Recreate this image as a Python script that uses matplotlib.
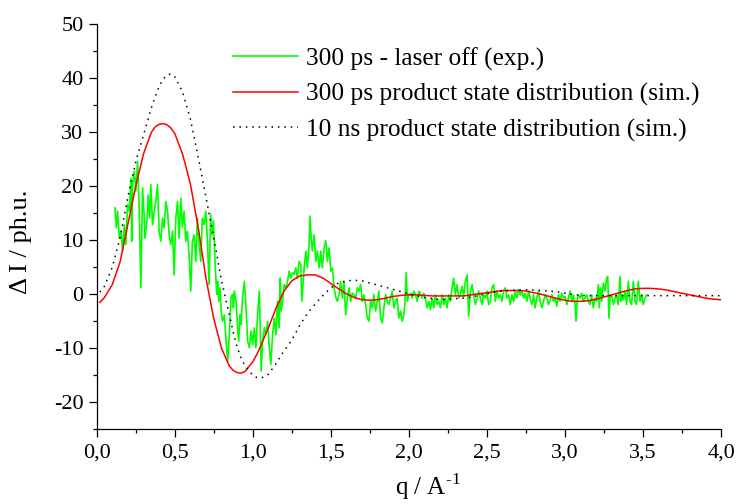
import numpy as np
import matplotlib
matplotlib.use("Agg")
import matplotlib.pyplot as plt
from matplotlib.ticker import MultipleLocator, FuncFormatter

# simulated curves
sim_q = [0.02, 0.05, 0.10, 0.15, 0.20, 0.25, 0.30, 0.35, 0.375, 0.40, 0.425, 0.45, 0.475, 0.50, 0.55,
         0.60, 0.65, 0.70, 0.75, 0.80, 0.85, 0.875, 0.90, 0.925, 0.95, 1.00, 1.025, 1.05, 1.075, 1.10, 1.15,
         1.20, 1.25, 1.30, 1.35, 1.40, 1.45, 1.50, 1.55, 1.60, 1.65, 1.70, 1.75,
         1.80, 1.85, 1.90, 1.95, 2.00, 2.05, 2.10, 2.15, 2.20, 2.25, 2.30, 2.35,
         2.40, 2.45, 2.50, 2.55, 2.60, 2.65, 2.70, 2.75, 2.80, 2.85, 2.90, 2.95,
         3.00, 3.05, 3.10, 3.15, 3.20, 3.25, 3.30, 3.35, 3.40, 3.45, 3.50, 3.55,
         3.60, 3.65, 3.70, 3.75, 3.80, 3.85, 3.90, 3.95, 4.00]

sim_300ps = [-1.5, -0.6, 1.8, 6.0, 13.0, 20.0, 26.0, 30.0, 31.0, 31.5, 31.6, 31.4, 30.8, 29.8, 26.0,
             20.5, 12.5, 3.0, -4.5, -10.0, -13.3, -14.1, -14.5, -14.6, -14.3, -12.5, -11.2, -9.6, -7.9, -6.2, -2.5,
             0.6, 2.5, 3.4, 3.6, 3.6, 3.0, 2.0, 1.0, 0.1, -0.6, -1.0, -1.1,
             -1.0, -0.7, -0.4, -0.2, -0.1, -0.1, -0.2, -0.3, -0.3, -0.3, -0.3, -0.3,
             -0.1, 0.1, 0.3, 0.5, 0.7, 0.7, 0.7, 0.6, 0.3, 0.0, -0.4, -0.8,
             -1.1, -1.3, -1.3, -1.2, -0.9, -0.5, -0.1, 0.3, 0.7, 1.0, 1.1, 1.1,
             1.0, 0.8, 0.5, 0.2, -0.1, -0.4, -0.7, -0.9, -1.0]

sim_10ns = [0.4, 1.5, 5.0, 10.5, 18.0, 24.5, 29.5, 34.5, 36.6, 38.5, 39.8, 40.6, 40.8, 40.3, 37.5,
            32.5, 25.5, 18.0, 10.5, 2.5, -3.8, -7.0, -9.8, -11.8, -13.2, -15.0, -15.4, -15.5, -15.3, -14.8, -12.8,
            -10.5, -8.5, -5.8, -3.5, -1.8, -0.2, 1.2, 2.1, 2.5, 2.6, 2.5, 2.1,
            1.7, 1.3, 0.9, 0.5, 0.1, -0.3, -0.6, -0.8, -1.0, -0.9, -0.8, -0.7,
            -0.5, -0.2, 0.1, 0.4, 0.6, 0.7, 0.8, 0.85, 0.8, 0.7, 0.6, 0.45,
            0.2, -0.05, -0.2, -0.25, -0.25, -0.25, -0.25, -0.25, -0.25, -0.25, -0.25, -0.25,
            -0.25, -0.25, -0.25, -0.25, -0.25, -0.25, -0.25, -0.25, -0.25]

# experimental trace (300 ps - laser off)
exp_q = [0.117, 0.126, 0.134, 0.145, 0.155, 0.166, 0.177, 0.187, 0.198, 0.209,
         0.219, 0.224, 0.230, 0.241, 0.251, 0.262, 0.273, 0.283, 0.294, 0.305,
         0.309, 0.322, 0.330, 0.339, 0.347, 0.358, 0.369, 0.379, 0.390, 0.400,
         0.411, 0.422, 0.432, 0.443, 0.454, 0.464, 0.475, 0.486, 0.496, 0.507,
         0.518, 0.528, 0.539, 0.549, 0.560, 0.571, 0.581, 0.592, 0.603, 0.613,
         0.624, 0.635, 0.645, 0.656, 0.667, 0.677, 0.688, 0.699, 0.709, 0.720,
         0.730, 0.739, 0.748, 0.754, 0.760, 0.769, 0.775, 0.782, 0.790, 0.797,
         0.807, 0.818, 0.829, 0.839, 0.850, 0.861, 0.871, 0.876, 0.882, 0.893,
         0.903, 0.910, 0.918, 0.925, 0.935, 0.946, 0.957, 0.967, 0.978, 0.989,
         0.999, 1.010, 1.020, 1.031, 1.042, 1.048, 1.054, 1.063, 1.074, 1.084,
         1.095, 1.106, 1.116, 1.127, 1.138, 1.148, 1.159, 1.169, 1.176, 1.182,
         1.191, 1.201, 1.212, 1.223, 1.233, 1.244, 1.254, 1.265, 1.276, 1.286,
         1.297, 1.308, 1.314, 1.322, 1.329, 1.340, 1.350, 1.361, 1.367, 1.374,
         1.382, 1.393, 1.404, 1.414, 1.425, 1.436, 1.446, 1.457, 1.468, 1.478,
         1.489, 1.500, 1.510, 1.521, 1.532, 1.542, 1.553, 1.563, 1.574, 1.585,
         1.595, 1.606, 1.617, 1.627, 1.638, 1.649, 1.659, 1.670, 1.681, 1.691,
         1.702, 1.712, 1.723, 1.734, 1.744, 1.755, 1.766, 1.776, 1.787, 1.798,
         1.808, 1.819, 1.830, 1.840, 1.851, 1.862, 1.872, 1.883, 1.893, 1.904,
         1.915, 1.925, 1.936, 1.947, 1.957, 1.968, 1.974, 1.983, 1.991, 2.000,
         2.011, 2.021, 2.032, 2.043, 2.053, 2.064, 2.075, 2.085, 2.096, 2.106,
         2.117, 2.128, 2.138, 2.149, 2.160, 2.170, 2.181, 2.192, 2.202, 2.213,
         2.224, 2.234, 2.245, 2.256, 2.266, 2.277, 2.287, 2.298, 2.309, 2.320,
         2.330, 2.341, 2.351, 2.362, 2.373, 2.379, 2.383, 2.394, 2.405, 2.415,
         2.426, 2.437, 2.447, 2.458, 2.469, 2.479, 2.490, 2.500, 2.511, 2.522,
         2.532, 2.543, 2.554, 2.564, 2.575, 2.586, 2.596, 2.607, 2.618, 2.628,
         2.639, 2.650, 2.660, 2.671, 2.682, 2.692, 2.703, 2.714, 2.724, 2.735,
         2.746, 2.756, 2.767, 2.777, 2.788, 2.799, 2.809, 2.820, 2.831, 2.841,
         2.852, 2.863, 2.873, 2.884, 2.895, 2.905, 2.916, 2.926, 2.937, 2.948,
         2.958, 2.969, 2.980, 2.990, 3.001, 3.012, 3.022, 3.033, 3.044, 3.054,
         3.065, 3.071, 3.080, 3.086, 3.097, 3.107, 3.118, 3.129, 3.139, 3.150,
         3.161, 3.171, 3.182, 3.193, 3.203, 3.214, 3.220, 3.227, 3.235, 3.246,
         3.257, 3.267, 3.274, 3.282, 3.289, 3.299, 3.310, 3.321, 3.331, 3.342,
         3.353, 3.359, 3.368, 3.374, 3.385, 3.395, 3.406, 3.417, 3.427, 3.438,
         3.449, 3.459, 3.470, 3.481, 3.491, 3.502, 3.513, 3.523]

exp_dI = [16.0, 12.3, 15.4, 10.4, 11.7, 8.0, 12.9, 9.2, 16.6, 15.4,
          21.5, 9.8, 20.3, 22.8, 19.1, 24.6, 15.4, 1.2, 19.7, 14.1,
          10.4, 13.5, 18.4, 14.1, 20.3, 12.9, 15.4, 17.2, 20.3, 11.7,
          9.8, 14.1, 12.3, 17.2, 15.4, 11.0, 9.2, 11.7, 3.6, 14.1,
          17.2, 10.4, 17.8, 12.3, 15.4, 9.8, 11.7, 7.3, 0.6, 9.8,
          11.0, 6.1, 14.1, 9.2, 6.1, 14.1, 12.9, 15.4, 10.4, 1.8,
          14.8, 11.0, 13.6, 9.3, 4.9, 0.0, 2.4, -1.3, 1.2, -3.1,
          -5.0, -3.8, -8.7, -12.4, -7.5, -0.6, 0.0, -2.5, 0.6, -1.3,
          -6.2, -8.7, -3.8, -5.6, -0.6, 2.4, -2.5, -8.7, -9.9, -6.8,
          -9.3, -6.2, -9.9, -3.8, 0.6, -6.2, -14.2, -8.7, -6.2, -7.5,
          -5.0, -9.9, -13.0, -7.5, -4.4, -7.5, -1.3, -6.2, 3.0, -3.1,
          -1.3, 1.8, 1.2, 2.4, 4.3, 3.0, 4.0, 3.7, 4.9, 3.0,
          6.1, 5.5, -1.3, 1.8, 4.9, 8.0, 4.9, 9.3, 14.5, 10.5,
          8.0, 11.0, 6.1, 8.0, 4.9, 8.0, 4.9, 8.6, 9.9, 6.1,
          8.6, 4.3, 4.9, 1.2, -0.6, -1.3, 0.0, 2.4, -0.7, 2.4,
          -3.8, -0.7, 1.2, -1.3, 0.2, -0.1, -0.7, 1.2, 0.6, 1.8,
          -1.3, -0.1, -1.9, -4.4, -5.0, -1.3, -2.5, -0.1, -3.1, -1.3,
          0.6, -4.4, -5.3, -2.5, -0.1, -1.3, -1.9, -0.7, 0.6, -2.5,
          -1.3, -0.7, -4.4, -3.1, -5.0, -3.8, -1.9, 4.0, -1.3, -0.1,
          0.2, -0.7, 0.6, -0.1, -1.3, 0.6, -0.1, -0.7, 0.2, -0.7,
          -2.5, -1.3, -2.8, -0.7, -2.5, -0.1, -1.9, -1.3, -2.5, -0.1,
          -1.9, -0.7, -2.5, -0.1, -1.3, 1.2, 3.0, -0.1, 1.8, -0.7,
          -0.1, 1.5, -0.4, 2.4, 3.6, -1.3, -4.1, 0.6, 1.8, -0.1,
          -1.9, -0.7, 0.6, -0.7, -1.9, -0.1, -0.7, 0.6, -1.9, -1.3,
          1.2, 1.8, -1.3, 0.6, -0.7, -0.1, -1.3, 0.6, 1.2, -0.7,
          -0.1, -1.9, -0.1, -1.3, 0.6, -0.7, 0.9, -0.1, 0.6, -0.7,
          0.2, -1.3, 0.6, -0.7, -1.9, -0.1, -2.5, -0.7, 0.6, -1.3,
          -2.5, -1.3, -0.1, -0.7, -1.9, -1.0, -0.1, -1.3, -0.7, -2.2,
          -0.1, -1.3, 0.2, -0.7, -0.4, -1.9, -0.7, 0.6, -1.3, -0.1,
          -1.9, -5.0, -0.7, -0.1, -0.7, 0.2, -1.3, -0.7, -0.1, -1.3,
          -1.9, -0.1, -2.5, -0.7, -1.3, 1.8, -2.5, 1.2, -1.3, 2.1,
          0.6, 3.0, 3.3, -4.4, -0.7, -0.1, -1.9, -0.7, -0.1, -1.9,
          3.3, -1.3, -0.1, -1.0, 0.6, -1.9, 2.4, -1.3, -1.9, 2.4,
          -1.3, -1.9, 2.4, -1.3, -0.1, -1.9, -0.7, -0.1]

labels = ["300 ps - laser off (exp.)",
          "300 ps product state distribution (sim.)",
          "10 ns product state distribution (sim.)"]


def comma(v, pos):
    return f"{v:.1f}".replace(".", ",")


def main():
    plt.rcParams['font.family'] = ['Liberation Serif', 'DejaVu Serif']
    plt.rcParams['mathtext.fontset'] = 'custom'
    plt.rcParams['mathtext.rm'] = 'Liberation Serif'
    plt.rcParams['axes.unicode_minus'] = False

    fig = plt.figure(figsize=(7.38, 5.04), dpi=100)
    ax = fig.add_axes([0.131, 0.1482, 0.846, 0.8036])

    ax.plot(exp_q, exp_dI, color='#00ff00', lw=1.2, label=labels[0])
    ax.plot(sim_q, sim_300ps, color='#ff0000', lw=1.1, label=labels[1])
    ax.plot(sim_q, sim_10ns, color='black', lw=1.1, ls=(0, (1, 3.2)), label=labels[2])

    ax.set_xlim(0, 4.0)
    ax.set_ylim(-25, 50)
    ax.xaxis.set_major_locator(MultipleLocator(0.5))
    ax.xaxis.set_minor_locator(MultipleLocator(0.25))
    ax.xaxis.set_major_formatter(FuncFormatter(comma))
    ax.yaxis.set_major_locator(MultipleLocator(10))
    ax.yaxis.set_minor_locator(MultipleLocator(5))

    for side in ['top', 'right']:
        ax.spines[side].set_visible(False)
    for side in ['left', 'bottom']:
        ax.spines[side].set_linewidth(0.9)
    ax.tick_params(which='major', direction='out', length=5.5, width=0.9, labelsize=16)
    ax.tick_params(which='minor', direction='out', length=2.8, width=0.9)
    ax.tick_params(axis='y', which='major', pad=4)
    ax.tick_params(axis='x', which='major', pad=5)

    ax.set_xlabel("q / A$^{\\text{-1}}$", fontsize=18)
    ax.xaxis.set_label_coords(0.531, -0.103)
    ax.set_ylabel("\u0394 I / ph.u.", fontsize=19)
    ax.yaxis.set_label_coords(-0.104, 0.4625)

    ax.legend(loc='upper left', bbox_to_anchor=(0.218, 0.943), frameon=False,
              fontsize=18.3, handlelength=2.58, handletextpad=0.3, labelspacing=0.48,
              borderpad=0, borderaxespad=0)

    fig.savefig("out.png", dpi=100)


if __name__ == '__main__':
    main()
